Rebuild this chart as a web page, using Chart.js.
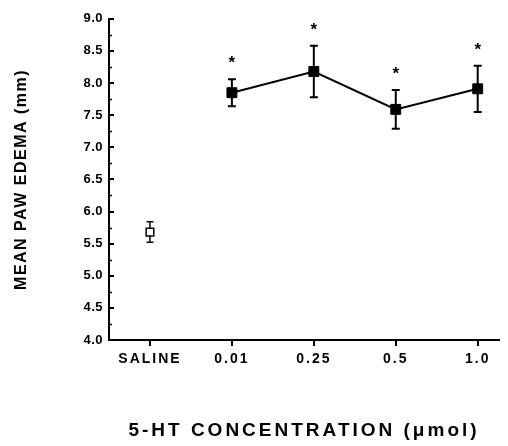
<!DOCTYPE html>
<html><head><meta charset="utf-8">
<script src="https://cdn.jsdelivr.net/npm/chart.js@4"></script>
<style>html,body{margin:0;padding:0;background:#fff}#wrap{width:508px;height:446px}</style>
</head><body><div id="wrap"><canvas id="c" width="508" height="446"></canvas></div>
<script>
// ---- data ----
const categories = ['SALINE', '0.01', '0.25', '0.5', '1.0'];
const salineMean = [5.68];
const salineSem = [0.16];
const htMean = [7.85, 8.18, 7.59, 7.91];
const htSem = [0.21, 0.40, 0.30, 0.36];
const significant = [false, true, true, true, true];
const yTicks = [4.0, 4.5, 5.0, 5.5, 6.0, 6.5, 7.0, 7.5, 8.0, 8.5, 9.0];
const yMinorTicks = [4.25, 4.75, 5.25, 5.75, 6.25, 6.75, 7.25, 7.75, 8.25, 8.75];
const yTitle = 'MEAN PAW EDEMA (mm)';
const xTitle = '5-HT CONCENTRATION (\u03bcmol)';

const FONT = "'Liberation Sans', Arial, Helvetica, sans-serif";
const spacing = { x: { labels: '2px', title: '3px' }, y: { labels: '0.5px', title: '1.5px' } };

const allMean = salineMean.concat(htMean);
const allSem = salineSem.concat(htSem);

const extras = {
  id: 'extras',
  beforeDraw(chart) {
    for (const id of ['x', 'y']) {
      const s = chart.scales[id];
      if (!s || s.__ls) continue;
      s.__ls = true;
      const sp = spacing[id];
      const dl = s.drawLabels, dt = s.drawTitle;
      s.drawLabels = function (a) { const c = this.ctx; c.save(); c.letterSpacing = sp.labels; dl.call(this, a); c.restore(); };
      s.drawTitle = function () { const c = this.ctx; c.save(); c.letterSpacing = sp.title; dt.call(this); c.restore(); };
    }
  },
  beforeDatasetsDraw(chart) {
    const { ctx, scales: { x, y } } = chart;
    ctx.save();
    ctx.strokeStyle = '#000';
    chart.data.datasets.forEach((ds, di) => {
      const cap = di === 0 ? 3.5 : 4;
      ctx.lineWidth = di === 0 ? 1.5 : 2;
      ds.data.forEach(p => {
        const px = x.getPixelForValue(p.x);
        const t = y.getPixelForValue(p.y + p.sem);
        const b = y.getPixelForValue(p.y - p.sem);
        ctx.beginPath();
        ctx.moveTo(px, t); ctx.lineTo(px, b);
        ctx.moveTo(px - cap, t); ctx.lineTo(px + cap, t);
        ctx.moveTo(px - cap, b); ctx.lineTo(px + cap, b);
        ctx.stroke();
      });
    });
    ctx.restore();
  },
  afterDraw(chart) {
    const { ctx, scales: { x, y } } = chart;
    ctx.save();
    // minor ticks on y axis (inward)
    ctx.strokeStyle = '#000';
    ctx.lineWidth = 1.5;
    const ax = chart.chartArea.left;
    yMinorTicks.forEach(v => {
      const py = Math.round(y.getPixelForValue(v)) + 0.5;
      ctx.beginPath(); ctx.moveTo(ax, py); ctx.lineTo(ax + 3, py); ctx.stroke();
    });
    // significance stars
    ctx.fillStyle = '#000';
    ctx.font = 'bold 17px ' + FONT;
    ctx.textAlign = 'center';
    ctx.textBaseline = 'alphabetic';
    categories.forEach((c, i) => {
      if (!significant[i]) return;
      const px = x.getPixelForValue(i);
      const top = y.getPixelForValue(allMean[i] + allSem[i]);
      ctx.fillText('*', px, top - 11);
    });
    ctx.restore();
  }
};

new Chart(document.getElementById('c'), {
  type: 'scatter',
  data: {
    datasets: [
      {
        label: 'Saline',
        data: salineMean.map((m, i) => ({ x: i, y: m, sem: salineSem[i] })),
        showLine: false,
        pointStyle: 'rect',
        pointRadius: 5.4,
        pointBackgroundColor: '#fff',
        pointBorderColor: '#000',
        pointBorderWidth: 1.5
      },
      {
        label: '5-HT',
        data: htMean.map((m, i) => ({ x: i + 1, y: m, sem: htSem[i] })),
        showLine: true,
        borderColor: '#000',
        borderWidth: 2,
        pointStyle: 'rect',
        pointRadius: 7,
        pointBackgroundColor: '#000',
        pointBorderColor: '#000',
        pointBorderWidth: 1
      }
    ]
  },
  options: {
    responsive: false,
    animation: false,
    devicePixelRatio: 1,
    layout: { padding: { top: 16, right: 9, bottom: 0, left: 0 } },
    plugins: { legend: { display: false }, tooltip: { enabled: false } },
    scales: {
      x: {
        type: 'linear',
        min: -0.5,
        max: 4.26,
        afterBuildTicks: s => { s.ticks = categories.map((c, i) => ({ value: i })); },
        afterFit: s => { s.height = 106; },
        border: { display: true, color: '#000', width: 2 },
        grid: { drawOnChartArea: false, drawTicks: true, tickLength: 6, color: '#000', lineWidth: 2 },
        ticks: {
          color: '#000',
          padding: 5,
          maxRotation: 0,
          autoSkip: false,
          font: { family: FONT, size: 14, weight: 'bold' },
          callback: v => categories[v]
        },
        title: {
          display: true,
          text: xTitle,
          color: '#000',
          font: { family: FONT, size: 19, weight: 'bold' },
          padding: { top: 0, bottom: 4 }
        }
      },
      y: {
        type: 'linear',
        min: 4,
        max: 9,
        afterBuildTicks: s => { s.ticks = yTicks.map(v => ({ value: v })); },
        afterFit: s => { s.width = 109; },
        border: { display: true, color: '#000', width: 2 },
        grid: { drawOnChartArea: false, drawTicks: true, tickLength: -5, color: '#000', lineWidth: 2 },
        ticks: {
          color: '#000',
          padding: 11,
          font: { family: FONT, size: 13, weight: 'bold' },
          callback: v => Number(v).toFixed(1)
        },
        title: {
          display: true,
          text: yTitle,
          color: '#000',
          font: { family: FONT, size: 16, weight: 'bold' },
          padding: { top: 12, bottom: 0 }
        }
      }
    }
  },
  plugins: [extras]
});
</script>
</body></html>
